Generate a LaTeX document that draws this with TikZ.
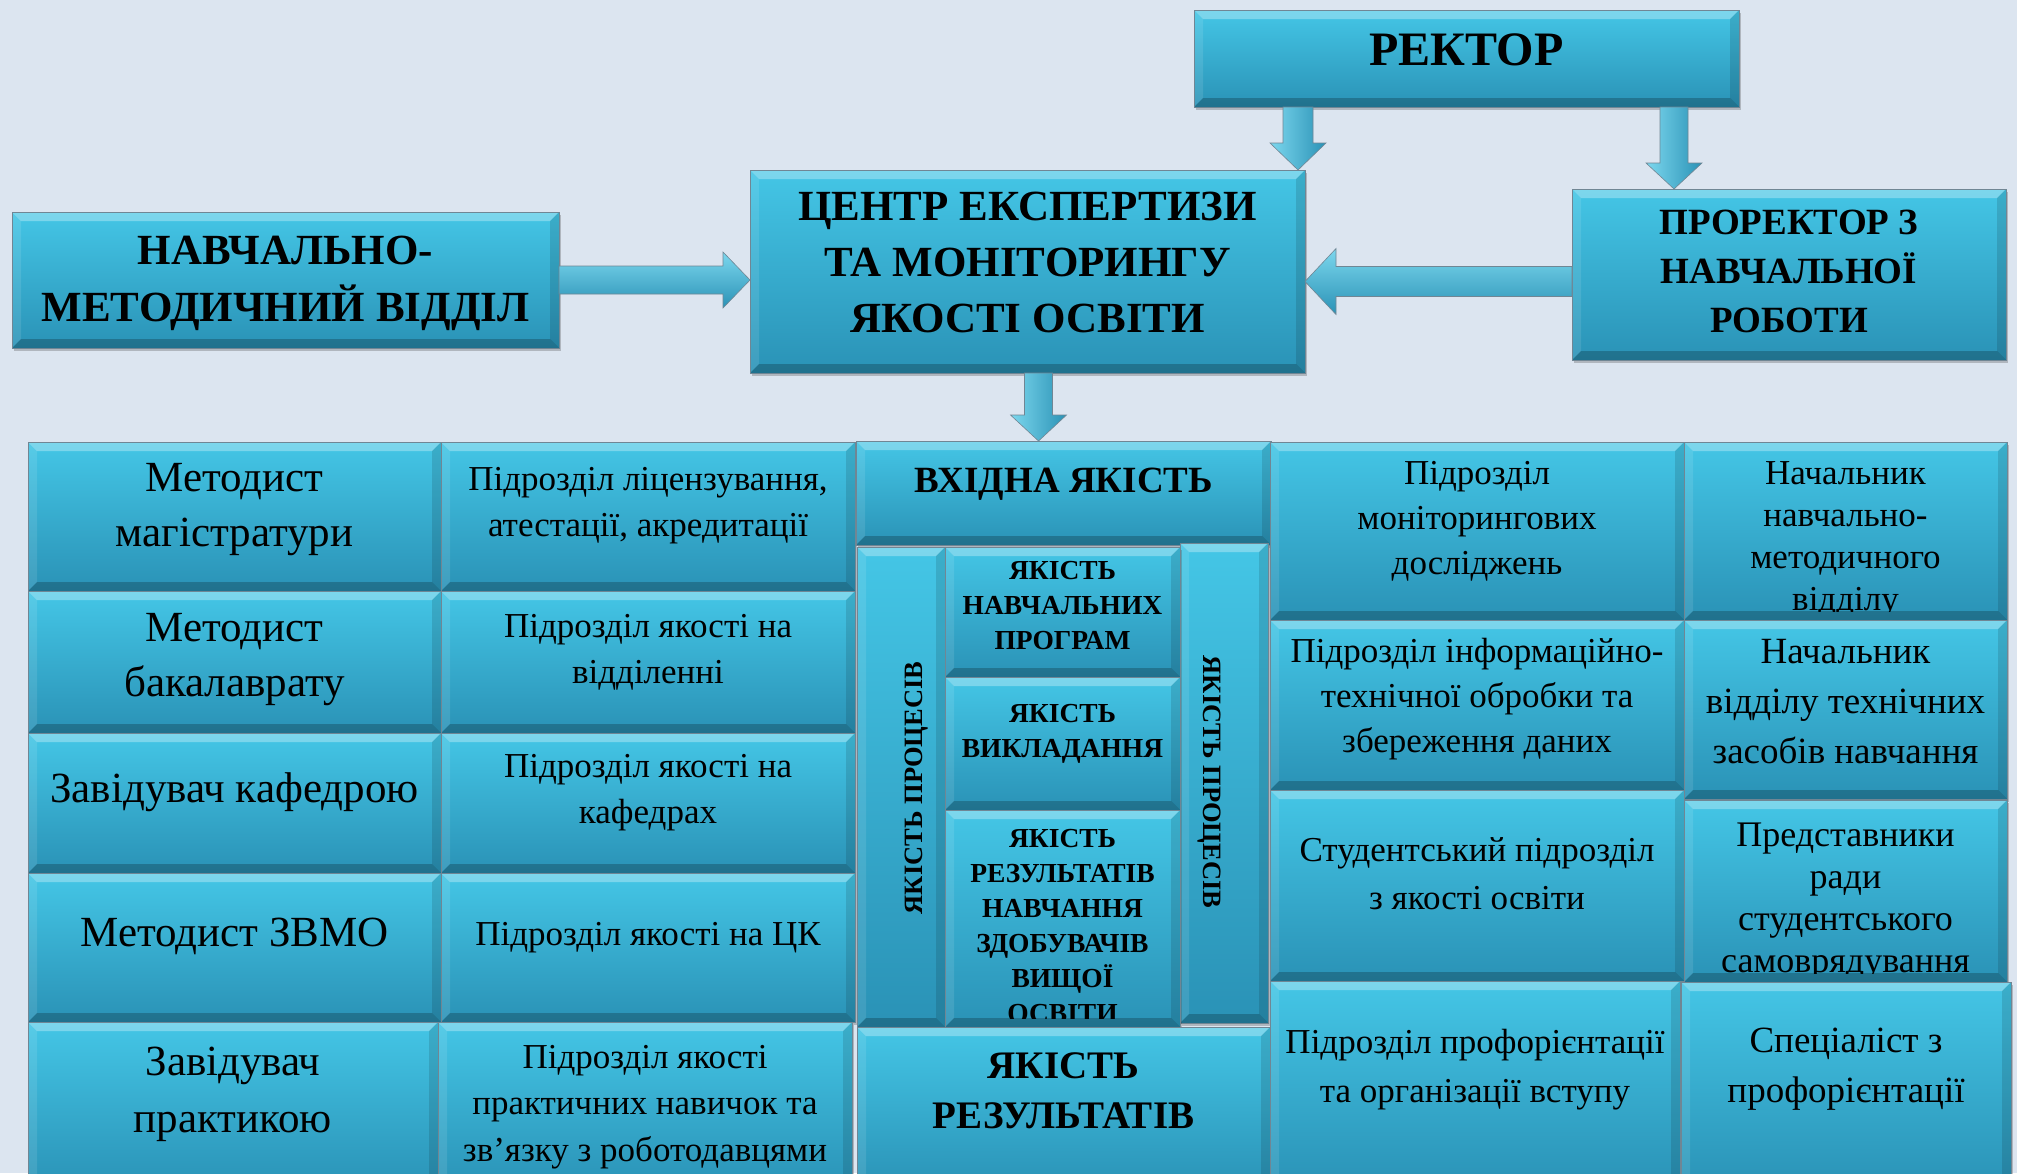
\documentclass[tikz,border=0pt]{standalone}
\usepackage{fontspec}
\setmainfont{Liberation Serif}
\usetikzlibrary{calc,shadows}
\definecolor{bg}{RGB}{220,229,240}
\definecolor{ctop}{RGB}{68,198,230}
\definecolor{cbot}{RGB}{42,146,182}
\definecolor{cedge}{RGB}{112,134,148}
\newcommand\ppb{path picture bounding box}
\tikzset{
 bevel/.style={path picture={
  \fill[white,opacity=.30] (\ppb.north west) -- (\ppb.north east) -- ([shift={(-9pt,-9pt)}]\ppb.north east) -- ([shift={(9pt,-9pt)}]\ppb.north west) -- cycle;
  \fill[white,opacity=.10] (\ppb.north west) -- ([shift={(9pt,-9pt)}]\ppb.north west) -- ([shift={(9pt,9pt)}]\ppb.south west) -- (\ppb.south west) -- cycle;
  \fill[black,opacity=.12] (\ppb.north east) -- ([shift={(-9pt,-9pt)}]\ppb.north east) -- ([shift={(-9pt,9pt)}]\ppb.south east) -- (\ppb.south east) -- cycle;
  \fill[black,opacity=.22] (\ppb.south west) -- ([shift={(9pt,9pt)}]\ppb.south west) -- ([shift={(-9pt,9pt)}]\ppb.south east) -- (\ppb.south east) -- cycle;
 }},
 bx/.style={rectangle, inner sep=0pt, outer sep=0pt, top color=ctop, bottom color=cbot, draw=cedge, line width=0.8pt,
   drop shadow={shadow xshift=1.5pt, shadow yshift=-2.5pt, opacity=.3, fill=black!70}, bevel},
 txt/.style={align=center, inner sep=0pt, text=black},
 blockh/.style={top color=ctop!70!white, bottom color=cbot, draw=cedge, line width=.6pt},
 blockv/.style={left color=ctop!70!white, right color=cbot, draw=cedge, line width=.6pt},
}
% #1 name #2 x1 #3 y1 #4 x2 #5 y2 #6 text shift up #7 font #8 text
\newcommand\mkbox[8]{%
 \pgfmathsetmacro\bw{#4-#2}\pgfmathsetmacro\bh{#5-#3}%
 \node[bx,minimum width=\bw pt,minimum height=\bh pt,anchor=north west] (#1) at (#2,#3) {};
 \begin{scope}
 \clip ([shift={(2pt,-2pt)}]#1.north west) rectangle ([shift={(-2pt,9pt)}]#1.south east);
 \node[txt,font={#7}] (#1t) at ([yshift=#6pt]#1.center) {#8};
 \end{scope}}
\newcommand\ttl[2]{\bfseries\fontsize{#1}{#2}\selectfont}
\newcommand\rg[2]{\fontsize{#1}{#2}\selectfont}
\begin{document}
\begin{tikzpicture}[x=1pt,y=-1pt]
\useasboundingbox (0,0) rectangle (2017,1173);
\clip (0,0) rectangle (2017,1173);
\fill[bg] (0,0) rectangle (2017,1173);

% top part
\mkbox{rektor}{1194}{10}{1739}{107}{9}{\ttl{48}{58}}{РЕКТОР}
\mkbox{centr}{750}{170}{1305}{373}{9}{\ttl{43}{56}}{ЦЕНТР ЕКСПЕРТИЗИ\\ТА МОНІТОРИНГУ\\ЯКОСТІ ОСВІТИ}
\mkbox{pror}{1572}{189}{2006}{360}{3}{\ttl{37}{49}}{ПРОРЕКТОР З\\НАВЧАЛЬНОЇ\\РОБОТИ}
\mkbox{nmv}{12}{212}{559}{348}{-3}{\ttl{43}{57}}{НАВЧАЛЬНО-\\МЕТОДИЧНИЙ ВІДДІЛ}

% arrows
\path[blockh] let \p1=(nmv.east), \p2=(centr.west) in
 (\x1,\y1+14pt) -- (\x2-27pt,\y1+14pt) -- (\x2-27pt,\y1+28pt) -- (\x2,\y1) -- (\x2-27pt,\y1-28pt) -- (\x2-27pt,\y1-14pt) -- (\x1,\y1-14pt) -- cycle;
\path[blockh] let \p1=([yshift=-7pt]pror.west), \p2=(centr.east) in
 (\x1,\y1+15pt) -- (\x2+31pt,\y1+15pt) -- (\x2+31pt,\y1+33pt) -- (\x2,\y1) -- (\x2+31pt,\y1-33pt) -- (\x2+31pt,\y1-15pt) -- (\x1,\y1-15pt) -- cycle;
\path[blockv] let \p1=(rektor.south), \p2=(centr.north), \p3=([xshift=-7pt]centr.north east) in
 (\x3-15pt,\y1) -- (\x3-15pt,\y2+27pt) -- (\x3-28pt,\y2+27pt) -- (\x3,\y2) -- (\x3+28pt,\y2+27pt) -- (\x3+15pt,\y2+27pt) -- (\x3+15pt,\y1) -- cycle;
\path[blockv] let \p1=(rektor.south), \p2=(pror.north), \p3=([xshift=-115pt]pror.north) in
 (\x3-14pt,\y1) -- (\x3-14pt,\y2+26pt) -- (\x3-28pt,\y2+26pt) -- (\x3,\y2) -- (\x3+28pt,\y2+26pt) -- (\x3+14pt,\y2+26pt) -- (\x3+14pt,\y1) -- cycle;

% column 1
\mkbox{a1}{28}{442}{441}{591}{7}{\rg{43}{55}}{Методист\\магістратури}
\mkbox{a2}{28}{591}{441}{733}{2}{\rg{43}{55}}{Методист\\бакалаврату}
\mkbox{a3}{28}{733}{441}{873}{11}{\rg{43}{55}}{Завідувач кафедрою}
\mkbox{a4}{28}{873}{441}{1022}{11}{\rg{43}{55}}{Методист ЗВМО}
\mkbox{a5}{28}{1022}{438}{1190}{12}{\rg{43}{57}}{Завідувач\\практикою}
% column 2
\mkbox{b1}{441}{442}{855}{591}{11}{\rg{35}{46}}{Підрозділ ліцензування,\\атестації, акредитації}
\mkbox{b2}{441}{591}{855}{733}{10}{\rg{35}{46}}{Підрозділ якості на\\відділенні}
\mkbox{b3}{441}{733}{855}{873}{10}{\rg{35}{46}}{Підрозділ якості на\\кафедрах}
\mkbox{b4}{441}{873}{855}{1022}{10}{\rg{35}{46}}{Підрозділ якості на ЦК}
\mkbox{b5}{438}{1022}{852}{1190}{-1}{\rg{35}{46.5}}{Підрозділ якості\\практичних навичок та\\зв’язку з роботодавцями}

% middle column
\mkbox{vhid}{856}{441}{1271}{545}{9}{\ttl{37}{44}}{ВХІДНА ЯКІСТЬ}
\mkbox{lv}{857}{547}{945}{1027}{0}{\rg{10}{12}}{}
\mkbox{rv}{1180}{543}{1268}{1023}{0}{\rg{10}{12}}{}
\mkbox{m1}{945}{547}{1180}{677}{6}{\ttl{27.5}{35}}{ЯКІСТЬ\\НАВЧАЛЬНИХ\\ПРОГРАМ}
\mkbox{m2}{945}{677}{1180}{810}{10}{\ttl{27.5}{35}}{ЯКІСТЬ\\ВИКЛАДАННЯ}
\mkbox{m3}{945}{810}{1180}{1027}{-8}{\ttl{27.5}{35}}{ЯКІСТЬ\\РЕЗУЛЬТАТІВ\\НАВЧАННЯ\\ЗДОБУВАЧІВ\\ВИЩОЇ\\ОСВІТИ}
\node[txt,rotate=90,font=\ttl{26.5}{32}] (lvt) at (917,788) {ЯКІСТЬ ПРОЦЕСІВ};
\node[txt,rotate=-90,font=\ttl{26.5}{32}] (rvt) at (1209,782) {ЯКІСТЬ ПРОЦЕСІВ};
\mkbox{res}{857}{1027}{1270}{1190}{18}{\ttl{39}{50}}{ЯКІСТЬ\\РЕЗУЛЬТАТІВ}

\path[blockv] let \p1=(centr.south), \p2=(vhid.north), \p3=([xshift=11pt]centr.south) in
 (\x3-14pt,\y1) -- (\x3-14pt,\y2+26pt) -- (\x3-28pt,\y2+26pt) -- (\x3,\y2) -- (\x3+28pt,\y2+26pt) -- (\x3+14pt,\y2+26pt) -- (\x3+14pt,\y1) -- cycle;

% column 4
\mkbox{c1}{1270}{442}{1684}{620}{10}{\rg{35}{45}}{Підрозділ\\моніторингових\\досліджень}
\mkbox{c2}{1270}{620}{1684}{790}{6}{\rg{35}{45}}{Підрозділ інформаційно-\\технічної обробки та\\збереження даних}
\mkbox{c3}{1270}{790}{1684}{981}{12}{\rg{35}{48}}{Студентський підрозділ\\з якості освіти}
\mkbox{c4}{1270}{981}{1680}{1190}{16}{\rg{35}{49}}{Підрозділ профорієнтації\\та організації вступу}
% column 5
\mkbox{d1}{1684}{442}{2007}{620}{-9}{\rg{35}{42}}{Начальник\\навчально-\\методичного\\відділу}
\mkbox{d2}{1684}{620}{2007}{799}{8}{\rg{37}{50}}{Начальник\\відділу технічних\\засобів навчання}
\mkbox{d3}{1684}{800}{2007}{982}{-11}{\rg{36}{42}}{Представники\\ради\\студентського\\самоврядування}
\mkbox{d4}{1681}{982}{2011}{1190}{17}{\rg{37}{50}}{Спеціаліст з\\профорієнтації}
\end{tikzpicture}
\end{document}
